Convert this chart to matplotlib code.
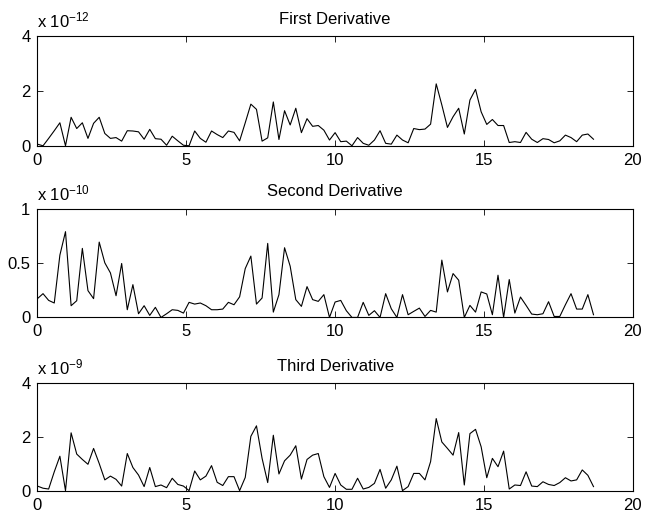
import numpy as np
import matplotlib
matplotlib.use("Agg")
import matplotlib.pyplot as plt
import matplotlib.transforms as mtransforms
from matplotlib.ticker import FuncFormatter

plt.rcParams['font.family'] = ['Liberation Sans', 'DejaVu Sans']
plt.rcParams['mathtext.default'] = 'regular'

# Sample times (100 evenly spaced samples)
n_samples = 100
dt = 0.1887
t = np.arange(n_samples) * dt

titles = ['First Derivative', 'Second Derivative', 'Third Derivative']
exponents = [-12, -10, -9]
y_ticks = [[0, 2, 4], [0, 0.5, 1], [0, 2, 4]]

# Magnitudes, in units of 10^exponent
first_deriv = [
    0.06, 0.0, 0.27, 0.55, 0.84, 0.0, 1.04, 0.63, 0.84, 0.27,
    0.82, 1.04, 0.45, 0.27, 0.30, 0.17, 0.55, 0.54, 0.51, 0.24,
    0.60, 0.26, 0.24, 0.02, 0.35, 0.18, 0.02, 0.0, 0.54, 0.27,
    0.13, 0.54, 0.41, 0.30, 0.54, 0.49, 0.18, 0.84, 1.52, 1.33,
    0.17, 0.29, 1.60, 0.23, 1.28, 0.76, 1.37, 0.48, 0.99, 0.71,
    0.74, 0.57, 0.21, 0.48, 0.15, 0.17, 0.0, 0.30, 0.09, 0.02,
    0.21, 0.55, 0.09, 0.06, 0.39, 0.21, 0.11, 0.63, 0.59, 0.61,
    0.79, 2.26, 1.49, 0.67, 1.06, 1.37, 0.43, 1.67, 2.06, 1.24,
    0.78, 0.96, 0.74, 0.74, 0.12, 0.15, 0.12, 0.49, 0.24, 0.12,
    0.26, 0.23, 0.11, 0.18, 0.39, 0.30, 0.15, 0.39, 0.43, 0.24,
]

second_deriv = [
    0.173, 0.219, 0.157, 0.133, 0.574, 0.790, 0.108, 0.154, 0.636, 0.247,
    0.173, 0.694, 0.503, 0.410, 0.200, 0.497, 0.071, 0.302, 0.034, 0.108,
    0.019, 0.093, 0.0, 0.034, 0.071, 0.065, 0.040, 0.139, 0.123, 0.133,
    0.108, 0.071, 0.071, 0.077, 0.139, 0.117, 0.190, 0.450, 0.565, 0.123,
    0.179, 0.682, 0.049, 0.210, 0.642, 0.472, 0.164, 0.102, 0.284, 0.164,
    0.148, 0.210, 0.0, 0.142, 0.157, 0.062, 0.0, 0.0, 0.139, 0.019,
    0.062, 0.0, 0.219, 0.080, 0.0, 0.210, 0.025, 0.056, 0.086, 0.009,
    0.065, 0.049, 0.528, 0.235, 0.404, 0.343, 0.0, 0.111, 0.049, 0.235,
    0.216, 0.025, 0.389, 0.0, 0.349, 0.040, 0.188, 0.111, 0.031, 0.025,
    0.034, 0.145, 0.009, 0.009, 0.117, 0.219, 0.077, 0.077, 0.210, 0.025,
]

third_deriv = [
    0.17, 0.09, 0.06, 0.70, 1.28, 0.0, 2.15, 1.36, 1.16, 0.98,
    1.57, 1.01, 0.40, 0.54, 0.42, 0.17, 1.38, 0.86, 0.58, 0.15,
    0.86, 0.15, 0.21, 0.11, 0.46, 0.23, 0.17, 0.0, 0.73, 0.40,
    0.54, 0.93, 0.31, 0.19, 0.52, 0.52, 0.0, 0.49, 2.02, 2.41,
    1.20, 0.30, 2.06, 0.62, 1.11, 1.32, 1.67, 0.43, 1.16, 1.32,
    1.38, 0.52, 0.12, 0.64, 0.21, 0.05, 0.05, 0.46, 0.06, 0.12,
    0.27, 0.79, 0.09, 0.40, 0.91, 0.0, 0.15, 0.64, 0.64, 0.40,
    1.08, 2.68, 1.81, 1.57, 1.32, 2.16, 0.21, 2.12, 2.28, 1.63,
    0.48, 1.20, 0.89, 1.47, 0.06, 0.21, 0.19, 0.70, 0.17, 0.15,
    0.33, 0.23, 0.19, 0.30, 0.48, 0.36, 0.40, 0.77, 0.57, 0.15,
]

series = [first_deriv, second_deriv, third_deriv]

fig = plt.figure(figsize=(6.45, 5.17), dpi=100)
# axes rectangles [left, bottom, width, height] in figure fractions
boxes = [
    [0.058, 0.718, 0.923, 0.212],
    [0.058, 0.386, 0.923, 0.210],
    [0.058, 0.051, 0.923, 0.208],
]

for box, title, expo, yt, vals in zip(boxes, titles, exponents, y_ticks, series):
    ax = fig.add_axes(box)
    scale = 10.0 ** expo
    ax.plot(t, np.array(vals) * scale, color='black', linewidth=0.8)
    ax.set_xlim(0, 20)
    ax.set_ylim(yt[0] * scale, yt[-1] * scale)
    ax.set_xticks([0, 5, 10, 15, 20])
    ax.set_yticks([v * scale for v in yt])
    ax.yaxis.set_major_formatter(FuncFormatter(lambda v, pos, s=scale: '%g' % round(v / s, 6)))
    ax.tick_params(direction='in', top=True, right=True, length=4, width=0.6,
                   labelsize=12)
    ax.tick_params(axis='x', pad=5)
    ax.tick_params(axis='y', pad=5)
    for sp in ax.spines.values():
        sp.set_linewidth(0.8)
    ax.set_title(title, fontsize=12, pad=9)
    # multiplier label sitting just above the top-left corner
    offset = mtransforms.offset_copy(ax.transAxes, fig=fig, x=0, y=6, units='points')
    ax.text(0.0, 1.0, r'x 10$^{%d}$' % expo, transform=offset,
            ha='left', va='baseline', fontsize=12)

fig.savefig('out.png', dpi=100)
